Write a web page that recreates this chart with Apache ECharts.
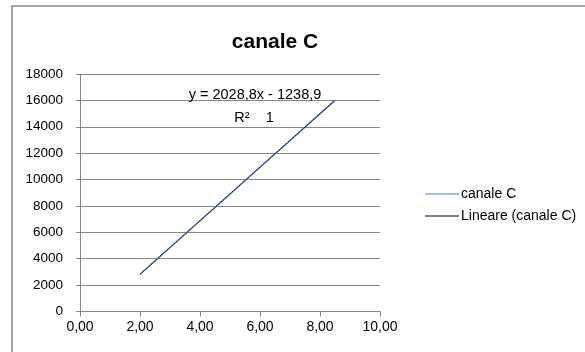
<!DOCTYPE html>
<html>
<head>
<meta charset="utf-8">
<script src="https://cdn.jsdelivr.net/npm/echarts@6/dist/echarts.min.js"></script>
<style>html,body{margin:0;padding:0;background:#fff}#c{width:585px;height:352px}</style>
</head>
<body>
<div id="c"></div>
<script>
const titleText = 'canale C';
const seriesName = 'canale C';
const trendName = 'Lineare (canale C)';
const xValues = [2.0, 4.0, 6.0, 8.5];
const yValues = [2820, 6880, 10935, 16005];
const trendX = [2.0, 8.5];
const trendY = [2819, 16006];
const equationText = 'y = 2028,8x - 1238,9';
const r2Text = 'R²    1';
const yTicks = [0, 2000, 4000, 6000, 8000, 10000, 12000, 14000, 16000, 18000];
const xTicks = [0, 2, 4, 6, 8, 10];

const FONT = 'Liberation Sans';
const chart = echarts.init(document.getElementById('c'), null, {renderer: 'canvas'});
const grey = '#868686';
chart.setOption({
  animation: false,
  backgroundColor: '#fff',
  title: {
    text: titleText, left: 270, top: 27, textAlign: 'center',
    textStyle: {fontFamily: FONT, fontWeight: 'bold', fontSize: 21, color: '#000'}
  },
  legend: {
    orient: 'vertical', left: 420, top: 182, itemGap: 8,
    itemWidth: 34, itemHeight: 1, icon: 'rect',
    textStyle: {fontFamily: FONT, fontSize: 14, color: '#000', padding: [0,0,0,-3]},
    data: [
      {name: seriesName, itemStyle: {color: '#4a7ebb'}},
      {name: trendName, itemStyle: {color: '#000'}}
    ]
  },
  grid: {left: 80, right: 205, top: 74, bottom: 40.5},
  xAxis: {
    type: 'value', min: xTicks[0], max: xTicks[xTicks.length-1], interval: 2,
    axisLine: {show: true, onZero: false, lineStyle: {color: grey}},
    axisTick: {show: true, length: 5, lineStyle: {color: grey}},
    splitLine: {show: false},
    axisLabel: {fontFamily: FONT, fontSize: 14, color: '#000', margin: 9,
      formatter: v => v.toFixed(2).replace('.', ',')}
  },
  yAxis: {
    type: 'value', min: yTicks[0], max: yTicks[yTicks.length-1], interval: 2000,
    axisLine: {show: true, lineStyle: {color: grey}},
    axisTick: {show: true, length: 4, lineStyle: {color: grey}},
    splitLine: {show: true, lineStyle: {color: grey, width: 1}},
    axisLabel: {fontFamily: FONT, fontSize: 13.5, color: '#000', margin: 17,
      formatter: v => String(v)}
  },
  series: [
    {name: seriesName, type: 'line', data: xValues.map((x,i)=>[x, yValues[i]]),
     showSymbol: false, lineStyle: {color: '#4a7ebb', width: 1.5}, itemStyle: {color: '#4a7ebb'}},
    {name: trendName, type: 'line', data: trendX.map((x,i)=>[x, trendY[i]]),
     showSymbol: false, lineStyle: {color: '#1a1a2a', width: 1, type: [2,1]}, itemStyle: {color: '#000'}}
  ],
  graphic: [
    {type: 'rect', shape: {x: 12, y: 6, width: 600, height: 400}, style: {fill: 'none', stroke: grey, lineWidth: 1.5}, z: -1},
    {type: 'text', x: 255, y: 95, z: 100, style: {text: equationText, font: '14.5px "Liberation Sans"', fill: '#000', textAlign: 'center', textVerticalAlign: 'middle'}},
    {type: 'text', x: 254, y: 118, z: 100, style: {text: r2Text, font: '14.5px "Liberation Sans"', fill: '#000', textAlign: 'center', textVerticalAlign: 'middle'}}
  ]
});
</script>
</body>
</html>
